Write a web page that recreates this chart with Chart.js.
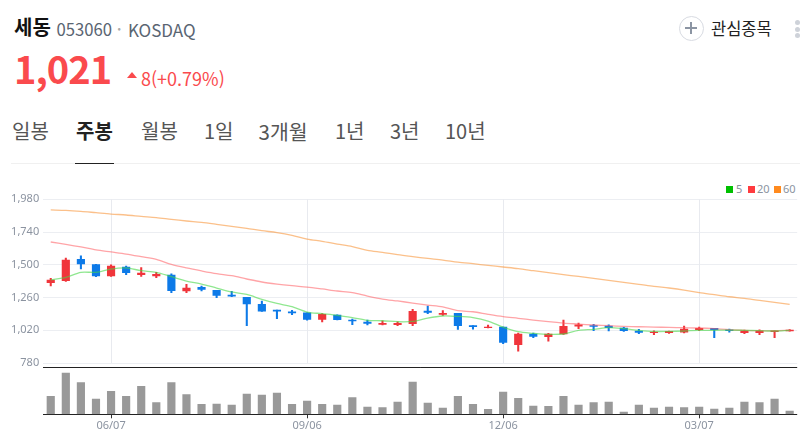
<!DOCTYPE html>
<html lang="ko">
<head>
<meta charset="utf-8">
<script src="https://cdn.jsdelivr.net/npm/chart.js@4"></script>
<style>
  html, body { margin: 0; padding: 0; background: #fff; }
  body { width: 800px; height: 442px; position: relative; overflow: hidden;
         font-family: "Noto Sans CJK KR", "Noto Sans", sans-serif; }
  .t { position: absolute; white-space: nowrap; line-height: 1; }
  #chartBox { position: absolute; left: 0; top: 170px; width: 800px; height: 272px; }
  .tab { font-size: 20px; color: #555; top: 121px; }
  .dot { position: absolute; left: 795px; width: 5px; height: 5px; border-radius: 50%; background: #ced2d9; }
  .lg { position: absolute; top: 185.5px; width: 7px; height: 7px; }
  .lgt { position: absolute; top: 183px; font: 11px/12px "Noto Sans", sans-serif; color: #8b93a0; }
</style>
</head>
<body>
<div class="t" style="left:14px;top:17px;font-size:20px;font-weight:700;color:#111">세동</div>
<div class="t" style="left:56.5px;top:21px;font-size:16.7px;color:#5a6572">053060</div>
<div class="t" style="left:117.5px;top:23px;font-size:10px;color:#aaa">•</div>
<div class="t" style="left:128px;top:21px;font-size:17px;color:#5a6572">KOSDAQ</div>
<div class="t" style="left:14px;top:49px;font-size:38px;font-weight:700;letter-spacing:-1px;color:#fa4a4d">1,021</div>
<div style="position:absolute;left:127px;top:72px;width:0;height:0;border-left:5px solid transparent;border-right:5px solid transparent;border-bottom:6px solid #fa4a4d"></div>
<div class="t" style="left:141px;top:69px;font-size:18px;color:#fa4a4d">8(+0.79%)</div>

<div class="t tab" style="left:12px">일봉</div>
<div class="t tab" style="left:76px;font-weight:700;color:#222">주봉</div>
<div class="t tab" style="left:141px">월봉</div>
<div class="t tab" style="left:204px">1일</div>
<div class="t tab" style="left:258.5px;font-size:20.5px">3개월</div>
<div class="t tab" style="left:335px">1년</div>
<div class="t tab" style="left:390px">3년</div>
<div class="t tab" style="left:445px">10년</div>
<div style="position:absolute;left:11px;top:163px;width:789px;height:1px;background:#f0f0f0"></div>
<div style="position:absolute;left:75px;top:163px;width:39px;height:1px;background:#222"></div>

<div style="position:absolute;left:679px;top:16px;width:23px;height:23px;border:1px solid #d8dbe2;border-radius:50%"></div>
<div style="position:absolute;left:685px;top:26.5px;width:12px;height:2.5px;background:#8c95a3"></div>
<div style="position:absolute;left:689.8px;top:22px;width:2.5px;height:12px;background:#8c95a3"></div>
<div class="t" style="left:711px;top:20px;font-size:16.5px;color:#222">관심종목</div>
<div class="dot" style="top:20px"></div>
<div class="dot" style="top:27px"></div>
<div class="dot" style="top:33px"></div>

<div class="lg" style="left:726px;background:#00c000"></div><div class="lgt" style="left:736px">5</div>
<div class="lg" style="left:748px;background:#ff3b3f"></div><div class="lgt" style="left:757px">20</div>
<div class="lg" style="left:774px;background:#ff8a1e"></div><div class="lgt" style="left:783px">60</div>

<div id="chartBox"><canvas id="chart" width="800" height="272"></canvas></div>

<script>
const weeks = ["05/10","05/17","05/24","05/31","06/07","06/14","06/21","06/28","07/05","07/12",
  "07/19","07/26","08/02","08/09","08/16","08/23","08/30","09/06","09/13","09/20",
  "09/27","10/04","10/11","10/18","10/25","11/01","11/08","11/15","11/22","11/29",
  "12/06","12/13","12/20","12/27","01/03","01/10","01/17","01/24","01/31","02/07",
  "02/14","02/21","02/28","03/07","03/14","03/21","03/28","04/04","04/11","04/18"];
const xTickLabels = ["06/07","09/06","12/06","03/07"];
const priceTicks = [780, 1020, 1260, 1500, 1740, 1980];

const opens = [1369,1384,1540,1501,1418,1484,1428,1418,1425,1308,1335,1313,1279,1261,1210,
  1169,1156,1149,1100,1132,1095,1081,1063,1061,1068,1161,1137,1144,1054,1039,
  1044,914,993,973,993,1051,1054,1051,1037,1015,1002,1002,1007,1024,1034,1024,1002,1002,1010,1015];
const closes = [1389,1535,1506,1418,1491,1442,1440,1430,1310,1330,1320,1276,1271,1213,1161,
  1161,1147,1100,1137,1098,1088,1071,1071,1071,1159,1151,1144,1054,1046,1044,
  932,993,976,993,1049,1061,1049,1039,1017,1005,1007,1012,1029,1034,1024,1017,1017,1017,1017,1021];
const highs = [1401,1550,1565,1503,1499,1491,1479,1445,1433,1357,1345,1313,1305,1261,1235,
  1169,1166,1149,1142,1134,1103,1095,1090,1083,1173,1198,1164,1144,1054,1059,
  1044,1000,1000,998,1095,1073,1063,1061,1042,1027,1017,1015,1051,1044,1034,1029,1022,1024,1017,1026];
const lows = [1345,1379,1469,1413,1415,1428,1415,1406,1296,1296,1308,1259,1266,1054,1159,
  1105,1134,1095,1081,1096,1061,1059,1059,1054,1054,1142,1129,1027,1029,1037,
  922,868,966,941,990,1032,1017,1015,1012,995,988,998,1000,1017,966,1007,995,988,966,1013];
const ma5 = [1389,1408,1445,1445,1469,1477,1457,1445,1413,1381,1359,1330,1301,1283,1247,
  1217,1193,1154,1142,1130,1113,1093,1090,1083,1085,1110,1125,1122,1113,1088,
  1044,1010,998,990,993,1020,1027,1039,1032,1020,1012,1012,1015,1020,1020,1022,1020,1017,1015,1020];
const ma20 = [1667,1650,1631,1609,1594,1579,1560,1540,1503,1477,1455,1435,1420,1396,1374,
  1359,1347,1337,1323,1308,1296,1271,1249,1235,1220,1205,1191,1164,1156,1137,
  1120,1108,1095,1083,1073,1066,1059,1054,1049,1046,1044,1041,1039,1037,1032,1024,1020,1017,1017,1020];
const ma60 = [1902,1899,1892,1882,1872,1865,1855,1846,1833,1821,1811,1797,1782,1767,1750,
  1736,1716,1689,1672,1652,1633,1606,1591,1574,1560,1547,1535,1520,1508,1496,
  1484,1472,1457,1442,1428,1415,1401,1386,1371,1357,1342,1330,1315,1296,1281,1266,1254,1239,1225,1210];
const volumes = [54,124,95,46,69,54,84,35,95,59,30,31,28,61,58,
  64,30,40,30,28,50,22,20,37,97,34,19,54,30,15,
  67,48,25,24,54,28,35,37,7,28,19,22,20,22,16,19,37,35,46,10];

const UP = "#f0353b", DOWN = "#0d7ae8", GREY = "#999999";
const candleColor = opens.map((o, i) => (closes[i] >= o ? UP : DOWN));
const axisFont = { family: '"Noto Sans", sans-serif', size: 11 };

// vertical guide lines only run over the price pane
const priceGuides = {
  id: "priceGuides",
  beforeDatasetsDraw(chart) {
    const { ctx, scales } = chart;
    ctx.save();
    ctx.strokeStyle = "#e8eaef";
    ctx.lineWidth = 1;
    xTickLabels.forEach((l) => {
      const x = Math.round(scales.x.getPixelForValue(weeks.indexOf(l))) + 0.5;
      ctx.beginPath();
      ctx.moveTo(x, scales.y.getPixelForValue(1980));
      ctx.lineTo(x, scales.y.getPixelForValue(780));
      ctx.stroke();
    });
    ctx.restore();
  },
};

new Chart(document.getElementById("chart"), {
  type: "bar",
  data: {
    labels: weeks,
    datasets: [
      { type: "line", label: "5", data: ma5, yAxisID: "y", order: 1, borderColor: "rgba(70,215,70,0.6)",
        borderWidth: 1.3, pointRadius: 0, tension: 0.3 },
      { type: "line", label: "20", data: ma20, yAxisID: "y", order: 1, borderColor: "rgba(255,90,95,0.55)",
        borderWidth: 1.3, pointRadius: 0, tension: 0.3 },
      { type: "line", label: "60", data: ma60, yAxisID: "y", order: 1, borderColor: "rgba(248,150,60,0.6)",
        borderWidth: 1.3, pointRadius: 0, tension: 0.3 },
      { label: "body", data: opens.map((o, i) => [o, closes[i]]), yAxisID: "y", order: 2, grouped: false,
        backgroundColor: candleColor, barThickness: 7.5 },
      { label: "wick", data: lows.map((l, i) => [l, highs[i]]), yAxisID: "y", order: 3, grouped: false,
        backgroundColor: candleColor, barThickness: 1.4 },
      { label: "volume", data: volumes, yAxisID: "vol", order: 4, grouped: false,
        backgroundColor: GREY, barThickness: 7.5 },
    ],
  },
  options: {
    responsive: false,
    animation: false,
    events: [],
    layout: { padding: { top: 29.3, right: 2.8, left: 0, bottom: 0 } },
    plugins: {
      tooltip: { enabled: false },
      legend: { display: false },
    },
    scales: {
      x: {
        type: "category",
        afterBuildTicks(axis) {
          axis.ticks = xTickLabels.map((l) => ({ value: weeks.indexOf(l) }));
        },
        afterFit(axis) { axis.height = 27.7; },
        grid: { offset: false, drawOnChartArea: false, drawTicks: true, tickLength: 4, tickColor: "#333" },
        border: { display: false },
        ticks: { autoSkip: false, maxRotation: 0, color: "#8b93a0", font: axisFont, padding: 1 },
      },
      vol: {
        position: "left",
        stack: "panes",
        stackWeight: 47,
        min: 0,
        max: 141,
        afterBuildTicks(axis) {
          axis.ticks = [{ value: 0 }, { value: 141 }];
        },
        afterFit(axis) { axis.width = 43.2; },
        grid: { color: "#222", drawTicks: false },
        border: { display: false },
        ticks: { display: false },
      },
      y: {
        position: "left",
        stack: "panes",
        stackWeight: 168,
        min: 749,
        max: 1980,
        afterBuildTicks(axis) {
          axis.ticks = priceTicks.map((v) => ({ value: v }));
        },
        afterFit(axis) { axis.width = 43.2; },
        grid: { color: "#eceef2", drawTicks: false },
        border: { display: false },
        ticks: {
          color: "#8b93a0",
          font: axisFont,
          padding: 4,
          callback: (v) => v.toLocaleString("en-US"),
        },
      },
    },
  },
  plugins: [priceGuides],
});
</script>
</body>
</html>
